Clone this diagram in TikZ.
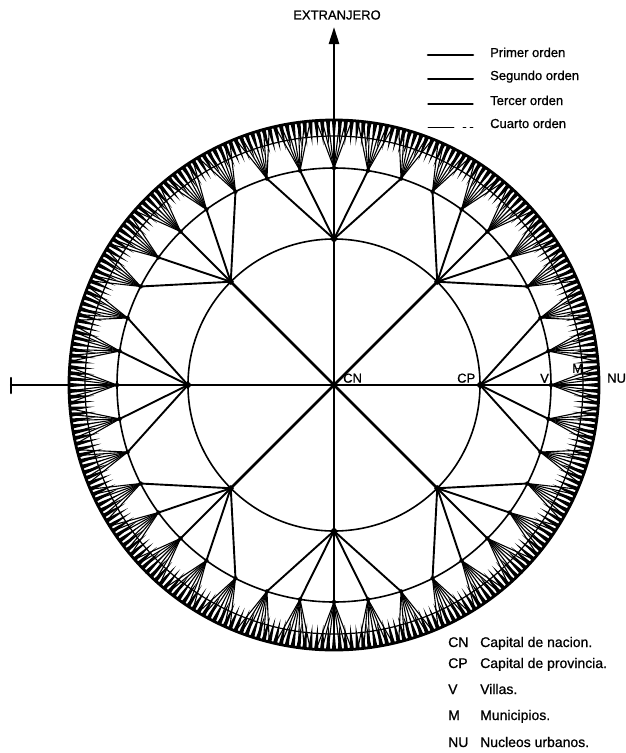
\documentclass[tikz,border=0pt]{standalone}
\usepackage{fontspec}
\setmainfont{Liberation Sans}[FakeBold=0.8]
\usetikzlibrary{arrows.meta}
\begin{document}
\begin{tikzpicture}[x=1pt,y=-1pt,line cap=round,
  first/.style={line width=2.5pt},
  second/.style={line width=1.9pt},
  fourth/.style={line width=1.1pt},
  ring/.style={line width=1.6pt},
  lbl/.style={font=\fontsize{13}{13}\selectfont,inner sep=0pt},
  key/.style={font=\fontsize{14}{14}\selectfont,inner sep=0pt,anchor=base west}]
\useasboundingbox (0,0) rectangle (625,753);
\coordinate (c) at (334,385);
% circles
\draw[ring] (c) circle[radius=146pt];
\draw[ring] (c) circle[radius=217pt];
\draw[line width=1.2pt] (c) circle[radius=249pt];
% villas and fans to urban nuclei
\foreach \j in {0,...,39}{
  \pgfmathsetmacro\a{\j*9}
  \coordinate (v\j) at ({334+217*cos(\a)},{385+217*sin(\a)});
  \foreach \k in {0,...,6}{
    \pgfmathsetmacro\b{\a+(\k-3)*9/7}
    \coordinate (nu\j-\k) at ({334+265*cos(\b)},{385+265*sin(\b)});
    \coordinate (m\j-\k) at ({334+240*cos(\b)},{385+240*sin(\b)});
    \coordinate (nl\j-\k) at ({334+265*cos(\b-0.46)},{385+265*sin(\b-0.46)});
    \coordinate (nr\j-\k) at ({334+265*cos(\b+0.46)},{385+265*sin(\b+0.46)});
    \fill (nl\j-\k) -- (m\j-\k) -- (nr\j-\k) -- cycle;
    \draw[fourth] (v\j) -- (nu\j-\k);
  }
  \fill (v\j) circle[radius=2.2pt];
}
\draw[line width=2.8pt] (c) circle[radius=265pt];
% capitals of province
\foreach \i in {0,...,7}{
  \pgfmathsetmacro\a{\i*45}
  \coordinate (cp\i) at ({334+146*cos(\a)},{385+146*sin(\a)});
  \draw[first] (c) -- (cp\i);
  \foreach \d in {-2,...,2}{
    \pgfmathtruncatemacro\j{mod(5*\i+\d+40,40)}
    \draw[second] (cp\i) -- (v\j);
  }
  \fill (cp\i) circle[radius=3pt];
}
\fill (c) circle[radius=3.5pt];
% axes
\coordinate (lt) at (11,385);
\coordinate (lt1) at (11,378);
\coordinate (lt2) at (11,393);
\draw[first] (lt) -- (c);
\draw[first] (lt1) -- (lt2);
\coordinate (tip) at (334,27);
\draw[first,-{Triangle[length=17pt,width=10pt]}] (nu30-3) -- (tip);
\node[lbl] (ext) at (337,15) {EXTRANJERO};
% axis labels
\node[lbl,anchor=south west] (lcn) at (343,383) {CN};
\node[lbl,anchor=south west] (lcp) at (457,383) {CP};
\node[lbl,anchor=south west] (lv) at (540,383) {V};
\node[lbl,anchor=south west] (lm) at (572,373) {M};
\node[lbl,anchor=south west] (lnu) at (607,383) {NU};
% legend of orders
\coordinate (a1) at (428,55); \coordinate (b1) at (473,55);
\coordinate (a2) at (428,79); \coordinate (b2) at (473,79);
\coordinate (a3) at (428,104); \coordinate (b3) at (473,104);
\coordinate (a4) at (428,127); \coordinate (b4) at (473,127);
\draw[line width=2.6pt] (a1) -- (b1);
\draw[line width=2pt] (a2) -- (b2);
\draw[line width=1.1pt] (a3) -- (b3);
\draw[line width=0.9pt,dash pattern=on 26pt off 9pt on 3pt off 4pt on 4pt] (a4) -- (b4);
\node[lbl,anchor=base west] (o1) at (490,57) {Primer orden};
\node[lbl,anchor=base west] (o2) at (490,80) {Segundo orden};
\node[lbl,anchor=base west] (o3) at (490,105) {Tercer orden};
\node[lbl,anchor=base west] (o4) at (490,128) {Cuarto orden};
% legend of abbreviations
\node[key] (k1) at (448,647) {CN};
\node[key] (k2) at (448,668) {CP};
\node[key] (k3) at (448,694) {V};
\node[key] (k4) at (448,720) {M};
\node[key] (k5) at (448,747) {NU};
\node[key] (d1) at (480,647) {Capital de nacion.};
\node[key] (d2) at (480,668) {Capital de provincia.};
\node[key] (d3) at (480,694) {Villas.};
\node[key] (d4) at (480,720) {Municipios.};
\node[key] (d5) at (480,747) {Nucleos urbanos.};
\end{tikzpicture}
\end{document}
